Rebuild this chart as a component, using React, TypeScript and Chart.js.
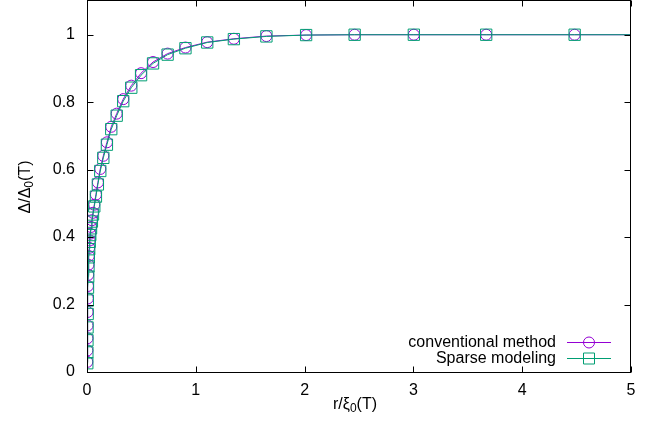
import React, { useEffect, useRef } from "react";
import { Chart, registerables } from "chart.js";

Chart.register(...registerables);

// r / xi_0(T)
const rValues = [
  0.0027, 0.0034, 0.0041, 0.005, 0.0061, 0.0074, 0.0091, 0.0111, 0.0136, 0.0166,
  0.0202, 0.0247, 0.03, 0.037, 0.045, 0.055, 0.067, 0.082, 0.1, 0.122,
  0.15, 0.183, 0.223, 0.273, 0.333, 0.407, 0.497, 0.607, 0.741, 0.905,
  1.105, 1.35, 1.649, 2.014, 2.46, 3.004, 3.669, 4.482, 5.0,
];
const conventionalValues = [
  0.03, 0.064, 0.1, 0.138, 0.178, 0.218, 0.255, 0.288, 0.318, 0.344,
  0.368, 0.39, 0.41, 0.43, 0.45, 0.472, 0.496, 0.526, 0.562, 0.602,
  0.641, 0.681, 0.727, 0.766, 0.809, 0.849, 0.886, 0.919, 0.944, 0.962,
  0.978, 0.988, 0.996, 0.999, 1.0, 1.0, 1.0, 1.0, 1.0,
];
const sparseValues = [
  0.026, 0.058, 0.094, 0.132, 0.172, 0.212, 0.25, 0.283, 0.313, 0.34,
  0.364, 0.386, 0.406, 0.426, 0.446, 0.467, 0.491, 0.52, 0.556, 0.596,
  0.635, 0.674, 0.72, 0.76, 0.803, 0.843, 0.88, 0.915, 0.941, 0.96,
  0.977, 0.987, 0.995, 0.999, 1.0, 1.0, 1.0, 1.0, 1.0,
];
// last point only continues the line to the right edge (no marker)
const markerCount = rValues.length - 1;

const xTicks = [0, 1, 2, 3, 4, 5];
const yTicks = [0, 0.2, 0.4, 0.6, 0.8, 1.0];
const seriesLabels = ["conventional method", "Sparse modeling"];

const PURPLE = "#9400d3";
const GREEN = "#009e73";
const FONT = "'Liberation Sans', Arial, Helvetica, sans-serif";

function drawSubText(
  ctx: CanvasRenderingContext2D,
  parts: { t: string; sub?: boolean }[],
  cx: number,
  baseline: number
) {
  const main = `16px ${FONT}`;
  const small = `12px ${FONT}`;
  let total = 0;
  for (const p of parts) {
    ctx.font = p.sub ? small : main;
    total += ctx.measureText(p.t).width;
  }
  let x = cx - total / 2;
  ctx.textAlign = "left";
  ctx.textBaseline = "alphabetic";
  for (const p of parts) {
    ctx.font = p.sub ? small : main;
    ctx.fillText(p.t, x, baseline + (p.sub ? 3 : 0));
    x += ctx.measureText(p.t).width;
  }
}

const framePlugin = {
  id: "gnuframe",
  afterDraw(chart: any) {
    const { ctx, chartArea: a, scales } = chart;
    ctx.save();
    ctx.strokeStyle = "#000";
    ctx.lineWidth = 1;
    const L = 6;
    const left = Math.round(a.left) + 0.5;
    const right = Math.round(a.right) - 0.5;
    const top = Math.round(a.top) - 0.5;
    const bottom = Math.round(a.bottom) + 0.5;
    ctx.beginPath();
    for (const v of xTicks) {
      const px = Math.round(scales.x.getPixelForValue(v)) + 0.5;
      ctx.moveTo(px, bottom);
      ctx.lineTo(px, bottom - L);
      ctx.moveTo(px, top);
      ctx.lineTo(px, top + L);
    }
    for (const v of yTicks) {
      const py = Math.round(scales.y.getPixelForValue(v)) + 0.5;
      ctx.moveTo(left, py);
      ctx.lineTo(left + L, py);
      ctx.moveTo(right, py);
      ctx.lineTo(right - L, py);
    }
    ctx.stroke();
    ctx.strokeRect(left, top, right - left, bottom - top);

    // legend
    const textRight = a.right - 75;
    const lineL = a.right - 64;
    const lineR = a.right - 20;
    const mx = (lineL + lineR) / 2;
    const rows = [
      { label: seriesLabels[0], color: PURPLE, style: "circle", y: a.bottom - 30 },
      { label: seriesLabels[1], color: GREEN, style: "rect", y: a.bottom - 14 },
    ];
    ctx.font = `16px ${FONT}`;
    ctx.textAlign = "right";
    ctx.textBaseline = "middle";
    for (const r of rows) {
      ctx.fillStyle = "#000";
      ctx.fillText(r.label, textRight, r.y + 1);
      ctx.strokeStyle = r.color;
      ctx.lineWidth = 1;
      ctx.beginPath();
      ctx.moveTo(lineL, r.y + 0.5);
      ctx.lineTo(lineR, r.y + 0.5);
      ctx.stroke();
      ctx.beginPath();
      if (r.style === "circle") {
        ctx.arc(mx, r.y + 0.5, 5.5, 0, Math.PI * 2);
      } else {
        ctx.rect(mx - 5.5, r.y - 5, 11, 11);
      }
      ctx.stroke();
    }

    // axis titles
    ctx.fillStyle = "#000";
    drawSubText(ctx, [{ t: "r/ξ" }, { t: "0", sub: true }, { t: "(T)" }], 355, 409);
    ctx.save();
    ctx.translate(30, 187);
    ctx.rotate(-Math.PI / 2);
    drawSubText(ctx, [{ t: "Δ/Δ" }, { t: "0", sub: true }, { t: "(T)" }], 0, 0);
    ctx.restore();
    ctx.restore();
  },
};

export default function App() {
  const ref = useRef<HTMLCanvasElement | null>(null);
  useEffect(() => {
    document.body.style.margin = "0";
    if (!ref.current) return;
    const mk = (vals: number[]) => rValues.map((x, i) => ({ x, y: vals[i] }));
    const radius = (r: number) => (c: any) => (c.dataIndex >= markerCount ? 0 : r);
    const chart = new Chart(ref.current, {
      type: "line",
      data: {
        datasets: [
          {
            label: seriesLabels[0],
            data: mk(conventionalValues),
            borderColor: PURPLE,
            backgroundColor: "transparent",
            borderWidth: 1,
            pointStyle: "circle",
            pointRadius: radius(5.5),
            pointBorderWidth: 1,
            pointBorderColor: PURPLE,
            pointBackgroundColor: "transparent",
            tension: 0,
            order: 2,
          },
          {
            label: seriesLabels[1],
            data: mk(sparseValues),
            borderColor: GREEN,
            backgroundColor: "transparent",
            borderWidth: 1,
            pointStyle: "rect",
            pointRadius: radius(8),
            pointBorderWidth: 1,
            pointBorderColor: GREEN,
            pointBackgroundColor: "transparent",
            tension: 0,
            order: 1,
          },
        ],
      },
      options: {
        animation: false,
        responsive: false,
        layout: { autoPadding: false, padding: { top: 1, right: 36, left: 0, bottom: 0 } },
        plugins: { legend: { display: false }, tooltip: { enabled: false } },
        elements: { point: { hoverRadius: 0 } },
        scales: {
          x: {
            type: "linear",
            min: 0,
            max: 5,
            grid: { display: false, drawTicks: false },
            border: { display: false },
            ticks: {
              stepSize: 1,
              padding: 9,
              color: "#000",
              font: { family: FONT, size: 16 },
              callback: (v: any) => String(v),
            },
            afterBuildTicks: (s: any) => {
              s.ticks = xTicks.map((value) => ({ value }));
            },
            afterFit: (s: any) => {
              s.height = 58;
              s.paddingLeft = 0;
              s.paddingRight = 0;
            },
          },
          y: {
            type: "linear",
            min: 0,
            max: 1.1,
            grid: { display: false, drawTicks: false },
            border: { display: false },
            ticks: {
              padding: 12,
              color: "#000",
              font: { family: FONT, size: 16, lineHeight: 0.05 },
              callback: (v: any) => String(+Number(v).toFixed(1)),
            },
            afterBuildTicks: (s: any) => {
              s.ticks = yTicks.map((value) => ({ value }));
            },
            afterFit: (s: any) => {
              s.width = 87;
              s.paddingTop = 0;
              s.paddingBottom = 0;
            },
          },
        },
      },
      plugins: [framePlugin],
    });
    return () => chart.destroy();
  }, []);
  return (
    <div style={{ width: 667, height: 430, background: "#fff" }}>
      <canvas ref={ref} width={667} height={430} />
    </div>
  );
}
